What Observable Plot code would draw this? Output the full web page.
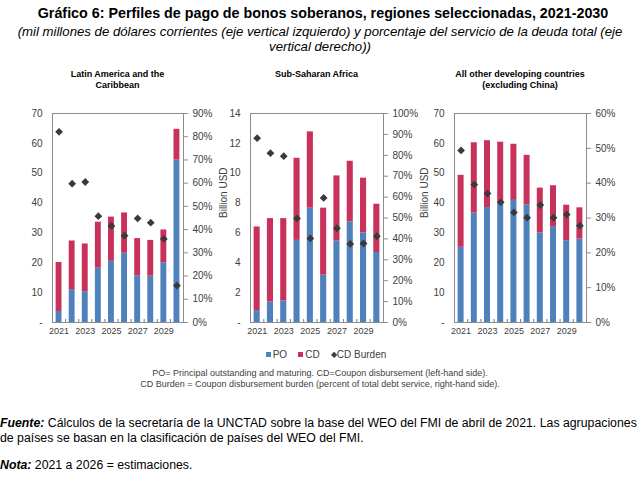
<!DOCTYPE html>
<html><head><meta charset="utf-8">
<script src="https://cdn.jsdelivr.net/npm/d3@7"></script>
<script src="https://cdn.jsdelivr.net/npm/@observablehq/plot@0.6"></script>
<style>
  body{margin:0;width:640px;height:480px;position:relative;background:#fff;font-family:"Liberation Sans",Arial,sans-serif;overflow:hidden}
  .abs{position:absolute}
  #title{left:0;width:646px;top:5px;text-align:center;font-weight:bold;font-size:14.3px;line-height:17px;color:#000;white-space:nowrap}
  #sub{left:0;width:640px;top:24px;text-align:center;font-style:italic;font-size:13.2px;line-height:15px;color:#000;white-space:nowrap}
  .ptitle{top:69px;text-align:center;font-weight:bold;font-size:9px;line-height:10.5px;color:#000}
  #legend{left:0;width:652px;top:349px;text-align:center;font-size:10px;color:#404040}
  #legend span.sw{display:inline-block;width:5px;height:5px;margin-right:2px;vertical-align:1px}
  #notes{left:0;width:640px;top:368px;text-align:center;font-size:9px;line-height:11px;color:#404040}
  #src{left:0;top:416px;font-size:12.3px;line-height:15px;color:#000;white-space:nowrap}
  #nota{left:0;top:458px;font-size:12.3px;line-height:15px;color:#000}
</style></head>
<body>
<div id="title" class="abs">Gráfico 6: Perfiles de pago de bonos soberanos, regiones seleccionadas, 2021-2030</div>
<div id="sub" class="abs">(mil millones de dólares corrientes (eje vertical izquierdo) y porcentaje del servicio de la deuda total (eje<br>vertical derecho))</div>
<div id="panels"></div>
<div id="legend" class="abs"><span class="sw" style="background:#4f81bd"></span>PO &nbsp;&nbsp; <span class="sw" style="background:#c8325a"></span>CD &nbsp;&nbsp; <span style="font-size:8px;vertical-align:1px">◆</span>CD Burden</div>
<div id="notes" class="abs">PO= Principal outstanding and maturing. CD=Coupon disbursement (left-hand side).<br>CD Burden = Coupon disbursement burden (percent of total debt service, right-hand side).</div>
<div id="src" class="abs"><b><i>Fuente:</i></b> Cálculos de la secretaría de la UNCTAD sobre la base del WEO del FMI de abril de 2021. Las agrupaciones<br>de países se basan en la clasificación de países del WEO del FMI.</div>
<div id="nota" class="abs"><b><i>Nota:</i></b> 2021 a 2026 = estimaciones.</div>
<script>
const years = [2021, 2022, 2023, 2024, 2025, 2026, 2027, 2028, 2029, 2030];
const yearTicks = [2021, 2023, 2025, 2027, 2029];

const panelTitles = ["Latin America  and the<br>Caribbean", "Sub-Saharan Africa", "All  other developing countries<br>(excluding China)"];

// Latin America and the Caribbean
const lacPO = [3.7, 11.0, 10.3, 18.2, 20.5, 23.2, 15.6, 15.5, 20.0, 54.4];
const lacCD = [16.4, 16.3, 16.0, 15.4, 14.8, 13.5, 12.5, 12.0, 11.0, 10.3];
const lacBurden = [82.1, 59.8, 60.5, 45.8, 41.6, 37.4, 44.8, 43.0, 36.0, 15.9];
const lacLeftTicks = [0, 10, 20, 30, 40, 50, 60, 70];
const lacRightTicks = [0, 10, 20, 30, 40, 50, 60, 70, 80, 90];

// Sub-Saharan Africa
const ssaPO = [0.8, 1.38, 1.45, 5.5, 7.66, 3.17, 5.45, 6.74, 6.0, 4.69];
const ssaCD = [5.6, 5.58, 5.51, 5.5, 5.11, 4.49, 4.37, 4.06, 3.67, 3.23];
const ssaBurden = [88.2, 81.0, 79.6, 49.8, 40.2, 59.6, 45.1, 37.6, 37.8, 41.3];
const ssaLeftTicks = [0, 2, 4, 6, 8, 10, 12, 14];
const ssaRightTicks = [0, 10, 20, 30, 40, 50, 60, 70, 80, 90, 100];

// All other developing countries (excluding China)
const othPO = [25.2, 36.7, 38.5, 39.6, 40.9, 39.4, 30.0, 32.1, 27.4, 27.9];
const othCD = [24.1, 23.5, 22.4, 20.8, 18.8, 16.6, 15.0, 13.7, 11.9, 10.5];
const othBurden = [49.4, 39.6, 37.0, 34.5, 31.6, 30.1, 33.7, 30.1, 31.0, 27.8];
const othLeftTicks = [0, 10, 20, 30, 40, 50, 60, 70];
const othRightTicks = [0, 10, 20, 30, 40, 50, 60];

const seriesNames = ["PO", "CD"];
const colors = ["#4f81bd", "#c8325a"];

const panels = [
  {po: lacPO, cd: lacCD, burden: lacBurden, lt: lacLeftTicks, rt: lacRightTicks, label: null,
   left: 0, width: 215, ml: 52, mr: 32},
  {po: ssaPO, cd: ssaCD, burden: ssaBurden, lt: ssaLeftTicks, rt: ssaRightTicks, label: "Billion USD",
   left: 215, width: 205, ml: 35, mr: 37, ldx: -27},
  {po: othPO, cd: othCD, burden: othBurden, lt: othLeftTicks, rt: othRightTicks, label: "Billion USD",
   left: 420, width: 220, ml: 34, mr: 54, ldx: -30}
];

const host = document.getElementById("panels");
panels.forEach((p, idx) => {
  const leftMax = p.lt[p.lt.length - 1];
  const rightMax = p.rt[p.rt.length - 1];
  const k = leftMax / rightMax;
  const stacked = [];
  years.forEach((yr, i) => {
    stacked.push({year: yr, series: seriesNames[0], value: p.po[i]});
    stacked.push({year: yr, series: seriesNames[1], value: p.cd[i]});
  });
  const burden = years.map((yr, i) => ({year: yr, burden: p.burden[i]}));
  const bounds = years.slice(0, -1).map(y => y + 0.5);
  const marks = [
    Plot.rectY(stacked, Plot.stackY({order: null}, {x1: d => d.year - 0.5, x2: d => d.year + 0.5, y: "value", fill: "series", insetLeft: 3.6, insetRight: 3.6})),
    Plot.ruleX(bounds, {x: d => d, y1: 0, y2: 0, insetBottom: 3, stroke: "#595959", strokeWidth: 0.8}),
    Plot.frame({stroke: "#8c8c8c", strokeWidth: 1}),
    Plot.dot(burden, {x: "year", y: d => d.burden * k, symbol: "diamond2", r: 3.5, fill: "#3a3a3a", stroke: "none"}),
    Plot.axisY(p.lt, {anchor: "left", tickSize: 0, tickPadding: 10, fontSize: 10, tickFormat: d => d === 0 ? "-" : String(d), label: null}),
    Plot.axisY(p.rt.map(v => v * k), {anchor: "right", tickSize: 4, tickPadding: 5, fontSize: 10, tickFormat: v => Math.round(v / k) + "%", stroke: "#8c8c8c", label: null}),
    Plot.axisX(yearTicks, {anchor: "bottom", tickSize: 0, tickPadding: 5, fontSize: 9, tickFormat: d => String(d), label: null})
  ];
  if (p.label) marks.push(Plot.text([p.label], {frameAnchor: "left", rotate: -90, dx: p.ldx, fontSize: 10, fill: "#404040"}));
  const chart = Plot.plot({
    width: p.width, height: 240,
    marginTop: 13, marginBottom: 18, marginLeft: p.ml, marginRight: p.mr,
    style: {fontFamily: "'Liberation Sans', Arial, sans-serif", color: "#404040", background: "transparent", overflow: "visible"},
    x: {type: "linear", domain: [2020.5, 2030.5], axis: null},
    y: {domain: [0, leftMax], axis: null},
    color: {domain: seriesNames, range: colors},
    marks
  });
  const wrap = document.createElement("div");
  wrap.className = "abs";
  wrap.style.left = p.left + "px";
  wrap.style.top = "100px";
  wrap.appendChild(chart);
  host.appendChild(wrap);
  const t = document.createElement("div");
  t.className = "abs ptitle";
  const cx = p.left + p.ml + (p.width - p.ml - p.mr) / 2;
  t.style.left = (cx - 110) + "px";
  t.style.width = "220px";
  t.innerHTML = panelTitles[idx];
  host.appendChild(t);
});
</script>
</body></html>
